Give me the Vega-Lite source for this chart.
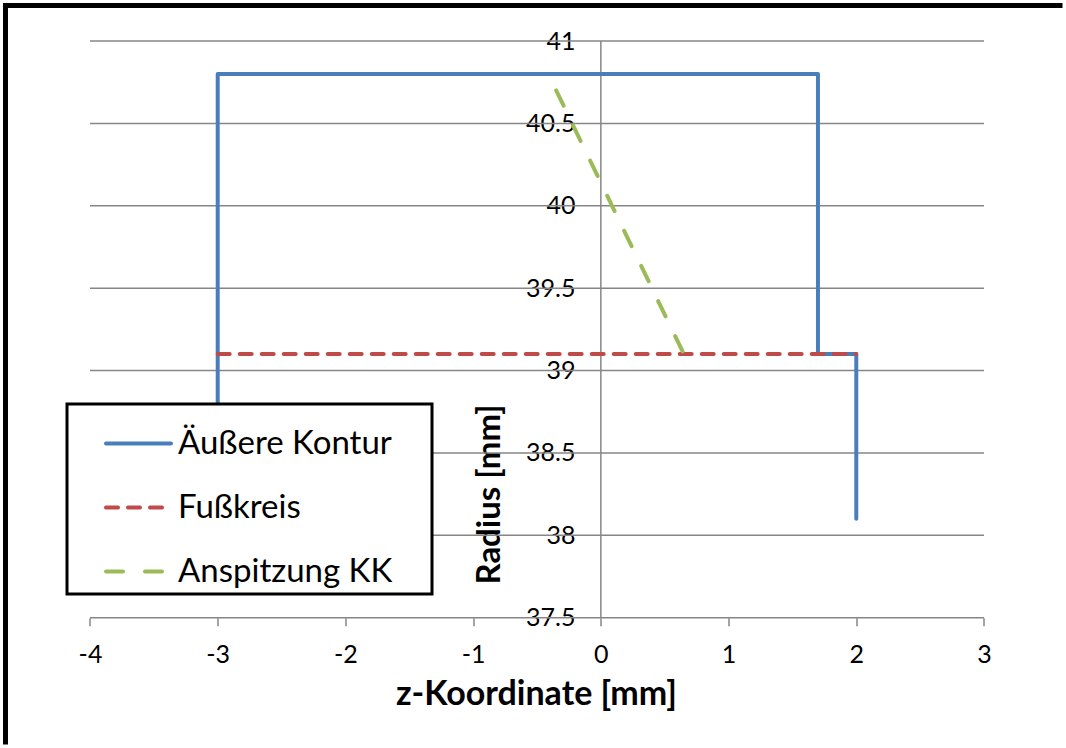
{
  "$schema": "https://vega.github.io/schema/vega-lite/v6.json",
  "autosize": "none",
  "width": 1060.5,
  "height": 742.5,
  "padding": {"left": 5.5, "top": 5.5, "right": 0, "bottom": 0},
  "background": "white",
  "view": {"stroke": "black", "strokeWidth": 5, "strokeDash": [1057, 1810, 739], "strokeCap": "butt"},
  "config": {"font": "Lato"},
  "datasets": {
    "grid": [
      {"r": 37.5, "z0": -4, "z1": 3},
      {"r": 38, "z0": -4, "z1": 3},
      {"r": 38.5, "z0": -4, "z1": 3},
      {"r": 39, "z0": -4, "z1": 3},
      {"r": 39.5, "z0": -4, "z1": 3},
      {"r": 40, "z0": -4, "z1": 3},
      {"r": 40.5, "z0": -4, "z1": 3},
      {"r": 41, "z0": -4, "z1": 3}
    ],
    "yaxis": [
      {"z": 0, "r0": 37.5, "r1": 41}
    ],
    "profile": [
      {"series": "Äußere Kontur", "order": 1, "z": -3, "r": 38.1},
      {"series": "Äußere Kontur", "order": 2, "z": -3, "r": 40.8},
      {"series": "Äußere Kontur", "order": 3, "z": 1.7, "r": 40.8},
      {"series": "Äußere Kontur", "order": 4, "z": 1.7, "r": 39.1},
      {"series": "Äußere Kontur", "order": 5, "z": 2, "r": 39.1},
      {"series": "Äußere Kontur", "order": 6, "z": 2, "r": 38.1},
      {"series": "Fußkreis", "order": 1, "z": -3, "r": 39.1},
      {"series": "Fußkreis", "order": 2, "z": 2, "r": 39.1},
      {"series": "Anspitzung KK", "order": 1, "z": -0.35, "r": 40.7},
      {"series": "Anspitzung KK", "order": 2, "z": 0.65, "r": 39.1}
    ]
  },
  "layer": [
    {
      "data": {"name": "grid"},
      "mark": {"type": "rule", "color": "#868686", "strokeWidth": 1.5},
      "encoding": {
        "y": {
          "field": "r",
          "type": "quantitative",
          "scale": {"domain": [36.709, 41.2155], "nice": false, "zero": false},
          "axis": {
            "orient": "left",
            "offset": -595.5,
            "values": [37.5, 38, 38.5, 39, 39.5, 40, 40.5, 41],
            "labelExpr": "'' + datum.value",
            "domain": false,
            "grid": false,
            "ticks": false,
            "labelPadding": 26,
            "labelFont": "Lato",
            "labelFontSize": 25,
            "labelColor": "black",
            "labelOverlap": false,
            "labelFlush": false,
            "title": "Radius [mm]",
            "titleFont": "Lato",
            "titleFontSize": 33,
            "titleFontWeight": "bold",
            "titleColor": "black",
            "titleAngle": 270,
            "titleX": -112,
            "titleY": 488.5,
            "titleAlign": "center",
            "titleBaseline": "middle"
          }
        },
        "x": {
          "field": "z0",
          "type": "quantitative",
          "scale": {"domain": [-4.6616, 3.6421], "nice": false, "zero": false},
          "axis": {
            "orient": "bottom",
            "offset": -130.3,
            "values": [-4, -3, -2, -1, 0, 1, 2, 3],
            "labelExpr": "'' + datum.value",
            "domain": false,
            "grid": false,
            "ticks": true,
            "tickSize": 8,
            "tickColor": "#868686",
            "tickWidth": 1.5,
            "labelPadding": 17,
            "labelFont": "Lato",
            "labelFontSize": 25,
            "labelColor": "black",
            "labelOverlap": false,
            "labelFlush": false,
            "title": "z-Koordinate [mm]",
            "titleFont": "Lato",
            "titleFontSize": 34,
            "titleFontWeight": "bold",
            "titleColor": "black",
            "titleX": 530.5,
            "titleY": 77,
            "titleAlign": "center",
            "titleBaseline": "middle"
          }
        },
        "x2": {"field": "z1"}
      }
    },
    {
      "data": {"name": "yaxis"},
      "mark": {"type": "rule", "color": "#868686", "strokeWidth": 1.5},
      "encoding": {
        "x": {"field": "z", "type": "quantitative"},
        "y": {"field": "r0", "type": "quantitative"},
        "y2": {"field": "r1"}
      }
    },
    {
      "data": {"name": "profile"},
      "mark": {"type": "line", "strokeWidth": 4, "strokeCap": "round", "strokeJoin": "round"},
      "encoding": {
        "x": {"field": "z", "type": "quantitative"},
        "y": {"field": "r", "type": "quantitative"},
        "order": {"field": "order", "type": "quantitative"},
        "color": {
          "field": "series",
          "type": "nominal",
          "scale": {
            "domain": ["Äußere Kontur", "Fußkreis", "Anspitzung KK"],
            "range": ["#4a7ebb", "#be4b48", "#9bbb59"]
          },
          "legend": {
            "orient": "none",
            "legendX": 61.5,
            "legendY": 398.5,
            "title": " ",
            "titleOrient": "right",
            "titlePadding": 35,
            "titleFontSize": 11,
            "padding": 5,
            "symbolOffset": 32,
            "symbolType": "stroke",
            "symbolSize": 4225,
            "symbolStrokeWidth": 4,
            "labelFont": "Lato",
            "labelFontSize": 33,
            "labelColor": "black",
            "labelOffset": 5,
            "labelLimit": 400,
            "rowPadding": 12,
            "strokeColor": "black",
            "fillColor": "white",
            "encode": {
              "legend": {"update": {"stroke": {"value": "black"}, "strokeWidth": {"value": 3}, "fill": {"value": "white"}}},
              "symbols": {"update": {"strokeCap": {"value": "round"}}}
            }
          }
        },
        "strokeDash": {
          "field": "series",
          "type": "nominal",
          "scale": {
            "domain": ["Äußere Kontur", "Fußkreis", "Anspitzung KK"],
            "range": [[1, 0], [12, 10], [17, 22]]
          },
          "legend": null
        }
      }
    }
  ]
}
